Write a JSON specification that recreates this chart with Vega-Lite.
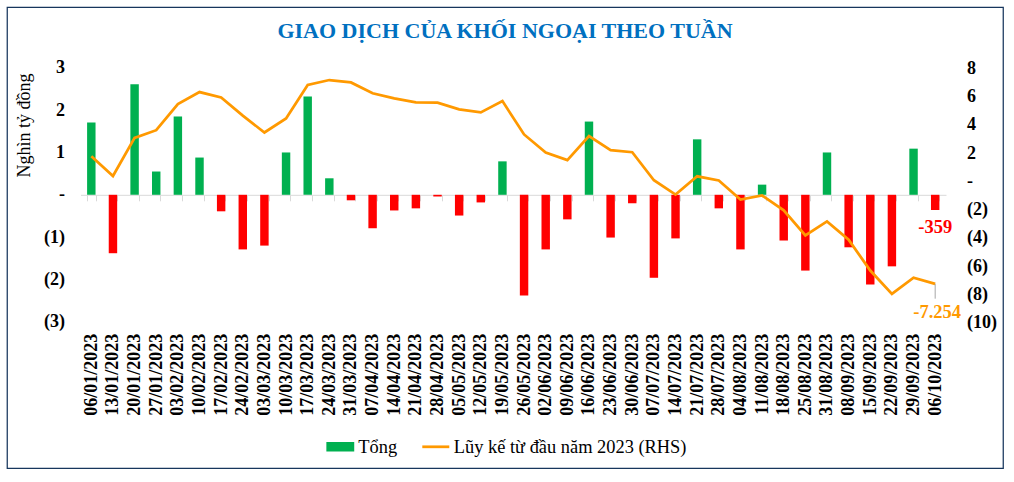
{
  "$schema": "https://vega.github.io/schema/vega-lite/v6.json",
  "width": 996,
  "height": 461,
  "autosize": "none",
  "padding": {"left": 7, "top": 7, "right": 11, "bottom": 14},
  "background": "white",
  "title": {"text": "GIAO DỊCH CỦA KHỐI NGOẠI THEO TUẦN", "frame": "group", "anchor": "middle", "orient": "top", "baseline": "alphabetic", "offset": -30.7, "dy": 22.7, "font": "Liberation Serif", "fontSize": 22, "fontWeight": "bold", "color": "#0070C0"},
  "data": {"values": [
    {"date": "06/01/2023", "tong": 1710, "luyke": 1780},
    {"date": "13/01/2023", "tong": -1380, "luyke": 380},
    {"date": "20/01/2023", "tong": 2610, "luyke": 3080},
    {"date": "27/01/2023", "tong": 550, "luyke": 3620},
    {"date": "03/02/2023", "tong": 1850, "luyke": 5470},
    {"date": "10/02/2023", "tong": 880, "luyke": 6320},
    {"date": "17/02/2023", "tong": -390, "luyke": 5940},
    {"date": "24/02/2023", "tong": -1290, "luyke": 4650},
    {"date": "03/03/2023", "tong": -1200, "luyke": 3460},
    {"date": "10/03/2023", "tong": 1000, "luyke": 4450},
    {"date": "17/03/2023", "tong": 2320, "luyke": 6820},
    {"date": "24/03/2023", "tong": 390, "luyke": 7170},
    {"date": "31/03/2023", "tong": -130, "luyke": 7000},
    {"date": "07/04/2023", "tong": -790, "luyke": 6230},
    {"date": "14/04/2023", "tong": -370, "luyke": 5870},
    {"date": "21/04/2023", "tong": -320, "luyke": 5590},
    {"date": "28/04/2023", "tong": -40, "luyke": 5570},
    {"date": "05/05/2023", "tong": -490, "luyke": 5090},
    {"date": "12/05/2023", "tong": -180, "luyke": 4880},
    {"date": "19/05/2023", "tong": 790, "luyke": 5680},
    {"date": "26/05/2023", "tong": -2380, "luyke": 3320},
    {"date": "02/06/2023", "tong": -1290, "luyke": 2040},
    {"date": "09/06/2023", "tong": -580, "luyke": 1500},
    {"date": "16/06/2023", "tong": 1730, "luyke": 3200},
    {"date": "23/06/2023", "tong": -1010, "luyke": 2210},
    {"date": "30/06/2023", "tong": -200, "luyke": 2060},
    {"date": "07/07/2023", "tong": -1960, "luyke": 80},
    {"date": "14/07/2023", "tong": -1030, "luyke": -940},
    {"date": "21/07/2023", "tong": 1310, "luyke": 360},
    {"date": "28/07/2023", "tong": -320, "luyke": 60},
    {"date": "04/08/2023", "tong": -1290, "luyke": -1290},
    {"date": "11/08/2023", "tong": 240, "luyke": -1000},
    {"date": "18/08/2023", "tong": -1080, "luyke": -2050},
    {"date": "25/08/2023", "tong": -1790, "luyke": -3820},
    {"date": "31/08/2023", "tong": 1000, "luyke": -2830},
    {"date": "08/09/2023", "tong": -1240, "luyke": -4130},
    {"date": "15/09/2023", "tong": -2120, "luyke": -6310},
    {"date": "22/09/2023", "tong": -1690, "luyke": -7960},
    {"date": "29/09/2023", "tong": 1090, "luyke": -6820},
    {"date": "06/10/2023", "tong": -359, "luyke": -7254}
  ]},
  "layer": [
    {
      "layer": [
        {
          "mark": {"type": "bar"},
          "encoding": {
            "x": {"field": "date", "type": "ordinal", "sort": null,
              "scale": {"range": [73.5, 939], "paddingInner": 0.61, "paddingOuter": 0.305},
              "axis": {"title": null, "orient": "bottom", "offset": -273.2, "domain": true, "domainColor": "#D9D9D9", "domainWidth": 1, "ticks": true, "tickColor": "#D9D9D9", "tickSize": 6, "tickBand": "extent", "labelAngle": -90, "labelPadding": 132.5, "labelFont": "Liberation Serif", "labelFontSize": 18, "labelFontWeight": "bold", "labelColor": "#000000", "labelOverlap": false, "labelAlign": "right", "labelBaseline": "middle", "grid": false}},
            "y": {"field": "tong", "type": "quantitative", "stack": null,
              "scale": {"domain": [-3000, 3000], "range": [314.8, 60.8], "nice": false, "zero": false},
              "axis": {"orient": "left", "offset": -57.5, "values": [-3000, -2000, -1000, 0, 1000, 2000, 3000], "labelExpr": "datum.value === 0 ? '-\u00a0' : datum.value < 0 ? '(' + (-datum.value/1000) + ')' : (datum.value/1000) + '\u00a0'", "domain": false, "ticks": false, "grid": false, "labelPadding": 0, "labelFont": "Liberation Serif", "labelFontSize": 18, "labelFontWeight": "bold", "labelColor": "#000000", "labelAlign": "right", "labelBaseline": "middle", "labelOverlap": false, "title": "Nghìn tỷ đồng", "titleFont": "Liberation Serif", "titleFontSize": 18, "titleFontWeight": "normal", "titleColor": "#000000", "titleAngle": -90, "titleAlign": "center", "titleBaseline": "middle", "titleX": -39.8, "titleY": 118}},
            "y2": {"datum": 0},
            "color": {
              "condition": {"test": "datum.tong < 0", "value": "#FF0000"},
              "datum": "Tổng", "type": "nominal",
              "scale": {"domain": ["Tổng", "Lũy kế từ đầu năm 2023 (RHS)"], "range": ["#00B050", "#FF9900"]},
              "legend": {"orient": "none", "legendX": 318.3, "legendY": 424.5, "direction": "horizontal", "title": null, "padding": 0, "columnPadding": 19.5, "labelOffset": 3, "symbolSize": 729, "labelFont": "Liberation Serif", "labelFontSize": 18.4, "labelColor": "#000000", "labelLimit": 400,
                "encode": {"symbols": {"update": {
                  "shape": {"signal": "datum.value === 'Tổng' ? 'M-0.93,-0.25H0.93V0.25H-0.93Z' : 'stroke'"},
                  "fill": {"signal": "datum.value === 'Tổng' ? '#00B050' : 'transparent'"},
                  "stroke": {"signal": "datum.value === 'Tổng' ? 'transparent' : '#FF9900'"},
                  "strokeWidth": {"value": 2.75},
                  "opacity": {"value": 1}
                }}}}
            }
          }
        },
        {
          "transform": [{"filter": "datum.date === '06/10/2023'"}],
          "mark": {"type": "text", "dy": 17, "font": "Liberation Serif", "fontSize": 18.5, "fontWeight": "bold", "color": "#FF0000", "align": "center", "baseline": "middle"},
          "encoding": {
            "x": {"field": "date", "type": "ordinal", "sort": null},
            "y": {"field": "tong", "type": "quantitative"},
            "text": {"field": "tong", "type": "quantitative", "format": ",d"}
          }
        }
      ]
    },
    {
      "layer": [
        {
          "mark": {"type": "line", "strokeWidth": 2.75},
          "encoding": {
            "x": {"field": "date", "type": "ordinal", "sort": null},
            "y": {"field": "luyke", "type": "quantitative",
              "scale": {"domain": [-10000, 8000], "range": [315.7, 61.3], "nice": false, "zero": false},
              "axis": {"orient": "right", "offset": -36.5, "values": [-10000, -8000, -6000, -4000, -2000, 0, 2000, 4000, 6000, 8000], "labelExpr": "datum.value === 0 ? '-' : datum.value < 0 ? '(' + (-datum.value/1000) + ')' : '' + (datum.value/1000)", "domain": false, "ticks": false, "grid": false, "labelPadding": 0, "title": null, "labelFont": "Liberation Serif", "labelFontSize": 18, "labelFontWeight": "bold", "labelColor": "#000000", "labelAlign": "left", "labelBaseline": "middle", "labelOverlap": false}},
            "color": {"datum": "Lũy kế từ đầu năm 2023 (RHS)", "type": "nominal"}
          }
        },
        {
          "transform": [{"filter": "datum.date === '06/10/2023'"}],
          "mark": {"type": "rule", "color": "#A6A6A6", "strokeWidth": 1},
          "encoding": {
            "x": {"field": "date", "type": "ordinal", "sort": null},
            "y": {"field": "luyke", "type": "quantitative"},
            "y2": {"datum": -8300}
          }
        },
        {
          "transform": [{"filter": "datum.date === '06/10/2023'"}],
          "mark": {"type": "text", "dy": 28, "dx": 2, "font": "Liberation Serif", "fontSize": 18.5, "fontWeight": "bold", "color": "#FF9900", "align": "center", "baseline": "middle"},
          "encoding": {
            "x": {"field": "date", "type": "ordinal", "sort": null},
            "y": {"field": "luyke", "type": "quantitative"},
            "text": {"field": "luyke", "type": "quantitative", "format": ",d"}
          }
        }
      ]
    }
  ],
  "resolve": {"scale": {"y": "independent"}, "axis": {"y": "independent"}},
  "config": {
    "font": "Liberation Serif",
    "view": {"stroke": "#17365D", "strokeWidth": 1.25},
    "locale": {"number": {"decimal": ",", "thousands": ".", "grouping": [3], "currency": ["", " ₫"], "minus": "-"}}
  }
}
